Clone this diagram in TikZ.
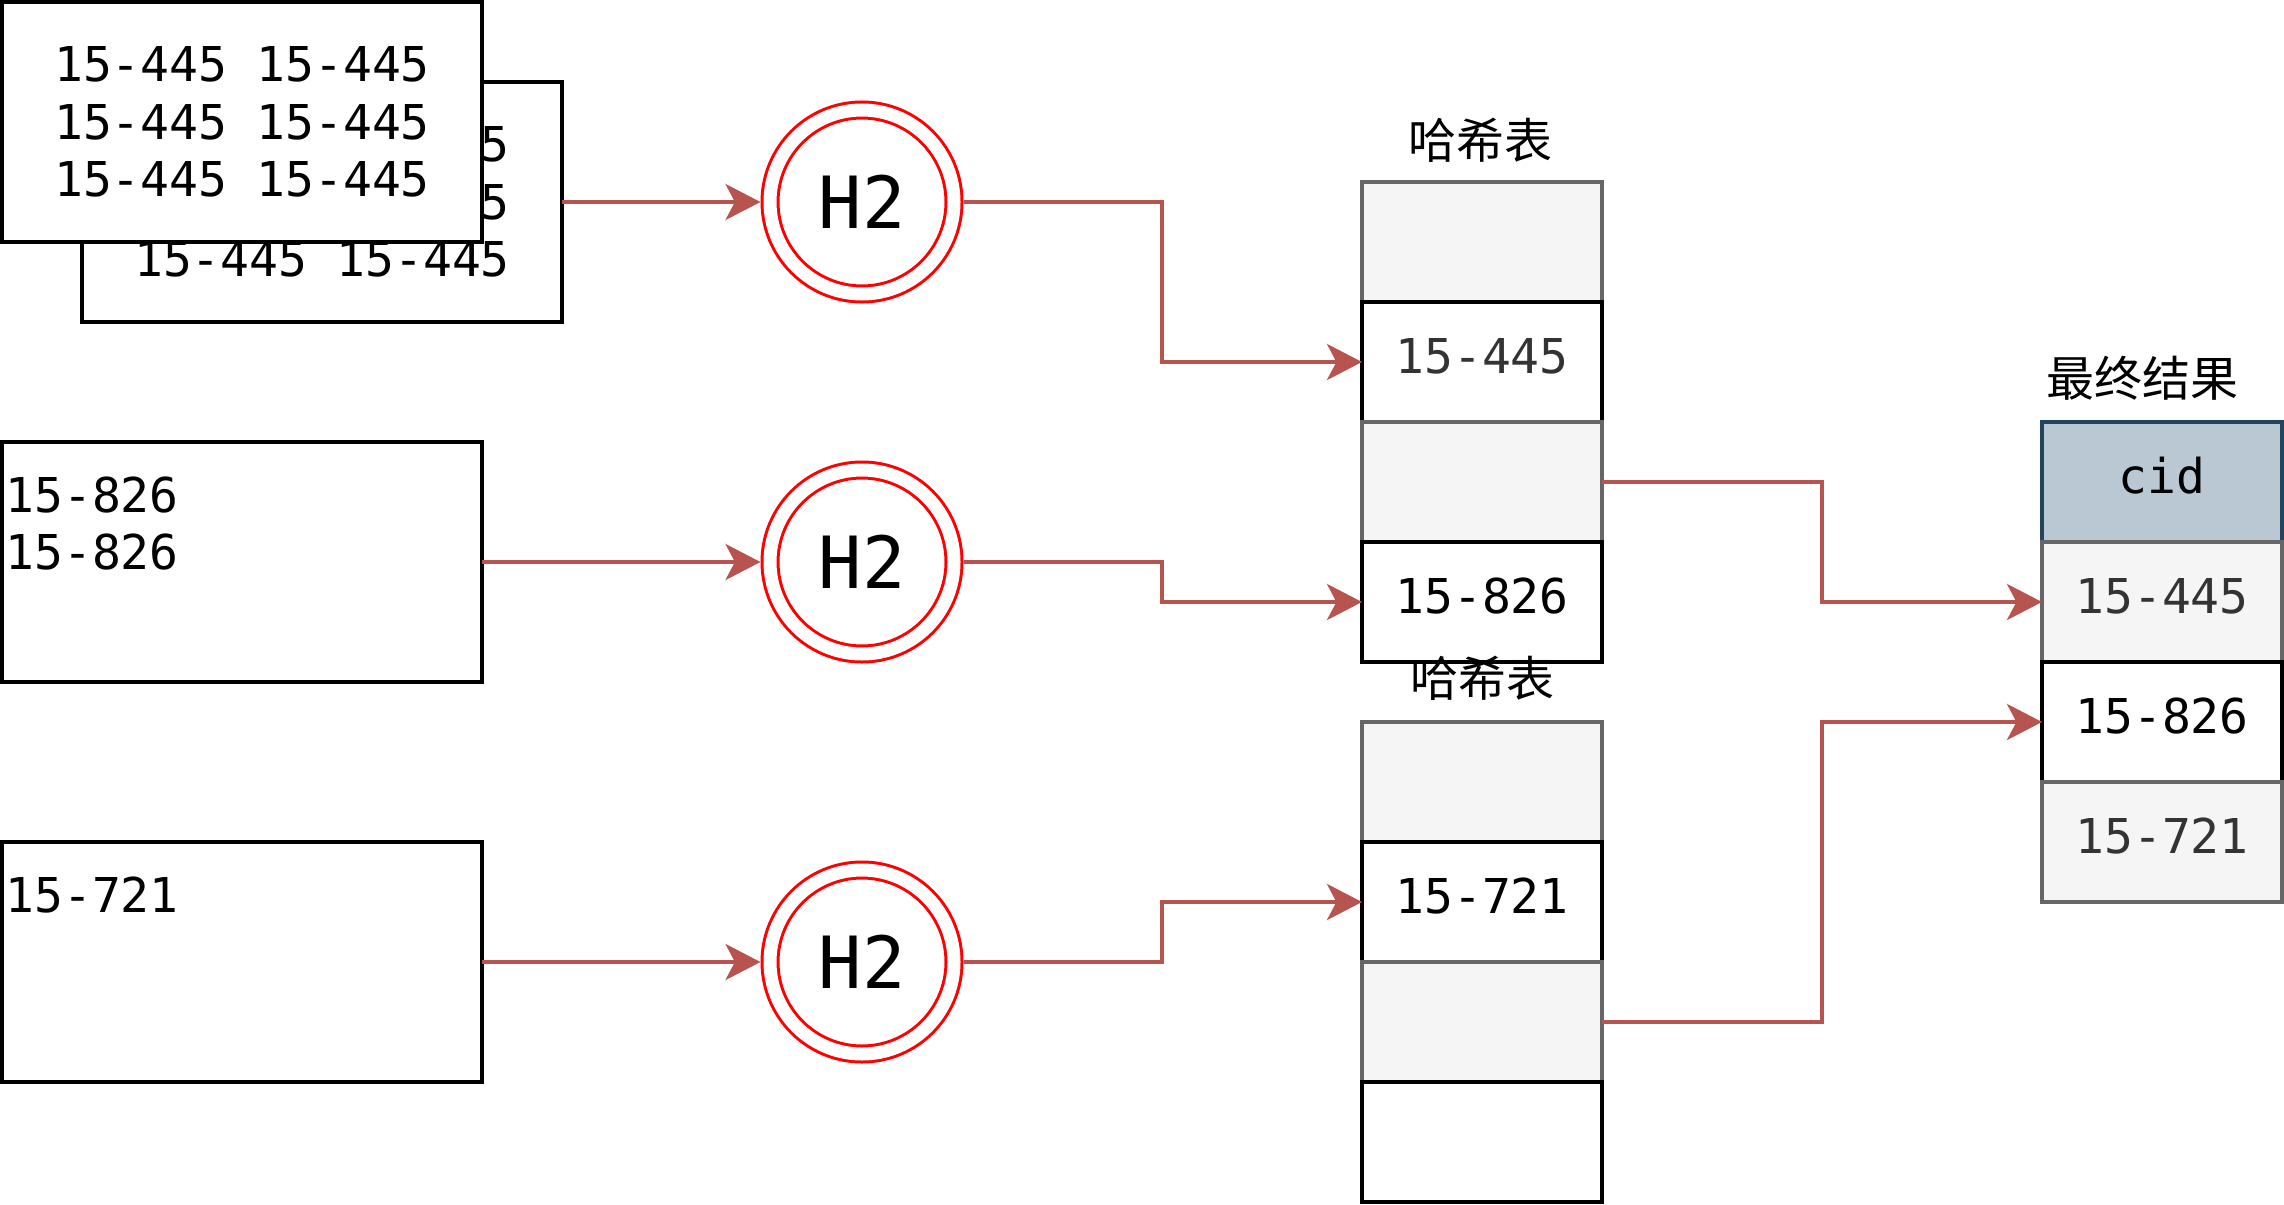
\documentclass[tikz,border=0pt]{standalone}
\usepackage{fontspec}
\usepackage{tikz}
\usetikzlibrary{arrows.meta,positioning}
\newfontfamily\monofont{DejaVu Sans Mono}
\newfontfamily\cjkfont{Noto Sans CJK SC}
\definecolor{arrc}{HTML}{B85450}
\definecolor{hashc}{HTML}{FF0000}
\definecolor{emptyc}{HTML}{F5F5F5}
\definecolor{emptyd}{HTML}{666666}
\definecolor{greyt}{HTML}{333333}
\definecolor{hdrc}{HTML}{BAC8D3}
\definecolor{hdrd}{HTML}{23445D}
\tikzset{
  txt/.style={font=\monofont\fontsize{24}{28.8}\selectfont},
  src/.style={draw, line width=2pt, fill=white, minimum width=240pt, minimum height=120pt,
              inner sep=0pt, outer sep=0pt, txt, align=center},
  srct/.style={txt, align=left, anchor=north west, inner sep=0pt},
  hsh/.style={circle, draw=hashc, line width=1.5pt, double=white, double distance=6.5pt,
              minimum size=92pt, inner sep=0pt, outer sep=4.75pt,
              font=\monofont\fontsize{36}{43}\selectfont},
  cell/.style={draw, line width=2pt, fill=white, minimum width=120pt, minimum height=60pt,
               inner sep=0pt, outer sep=0pt, txt, text height=17.5pt, text depth=6.4pt},
  emp/.style={cell, fill=emptyc, draw=emptyd, text=greyt},
  hdr/.style={cell, fill=hdrc, draw=hdrd},
  ttl/.style={font=\cjkfont\fontsize{24}{28.8}\selectfont, inner sep=0pt},
  arr/.style={-{Stealth[length=17.5pt, width=18pt, inset=4.7pt]}, draw=arrc, line width=2pt},
}
\begin{document}
\begin{tikzpicture}[x=1pt, y=-1pt, node distance=0pt]
\useasboundingbox (0,0) rectangle (1142,602);
% input blocks
\node[src] (srcA2) at (161,101) {15-445 15-445\\15-445 15-445\\15-445 15-445};
\node[src] (srcA) at (121,61) {15-445 15-445\\15-445 15-445\\15-445 15-445};
\node[src] (srcB) at (121,281) {};
\node[srct] (srcBt) at ([shift={(1.5pt,-17pt)}]srcB.north west) {15-826\\15-826};
\node[src] (srcC) at (121,481) {};
\node[srct] (srcCt) at ([shift={(1.5pt,-17pt)}]srcC.north west) {15-721};
% hash functions
\node[hsh] (hA) at (431,101) {H2};
\node[hsh] (hB) at (431,281) {H2};
\node[hsh] (hC) at (431,481) {H2};
% hash tables
\node[ttl] (tAl) at (740,70) {哈希表};
\node[emp] (tA1) at (741,121) {};
\node[cell, below=of tA1, text=greyt] (tA2) {15-445};
\node[emp, below=of tA2] (tA3) {};
\node[cell, below=of tA3] (tA4) {15-826};
\node[ttl] (tBl) at (741,339) {哈希表};
\node[emp] (tB1) at (741,391) {};
\node[cell, below=of tB1] (tB2) {15-721};
\node[emp, below=of tB2] (tB3) {};
\node[cell, below=of tB3] (tB4) {};
% result
\node[ttl] (rl) at (1071,189) {最终结果};
\node[hdr] (rHd) at (1081,241) {cid};
\node[emp, below=of rHd] (r1) {15-445};
\node[cell, below=of r1] (r2) {15-826};
\node[emp, below=of r2] (r3) {15-721};
% connectors
\coordinate (xL) at (581,0);
\coordinate (xR) at (911,0);
\draw[arr] (srcA2.east) -- (hA.west);
\draw[arr] (srcB.east) -- (hB.west);
\draw[arr] (srcC.east) -- (hC.west);
\draw[arr] (hA.east) -- (hA.east -| xL) |- (tA2.west);
\draw[arr] (hB.east) -- (hB.east -| xL) |- (tA4.west);
\draw[arr] (hC.east) -- (hC.east -| xL) |- (tB2.west);
\draw[arr] (tA3.east) -- (tA3.east -| xR) |- (r1.west);
\draw[arr] (tB3.east) -- (tB3.east -| xR) |- (r2.west);
\end{tikzpicture}
\end{document}
